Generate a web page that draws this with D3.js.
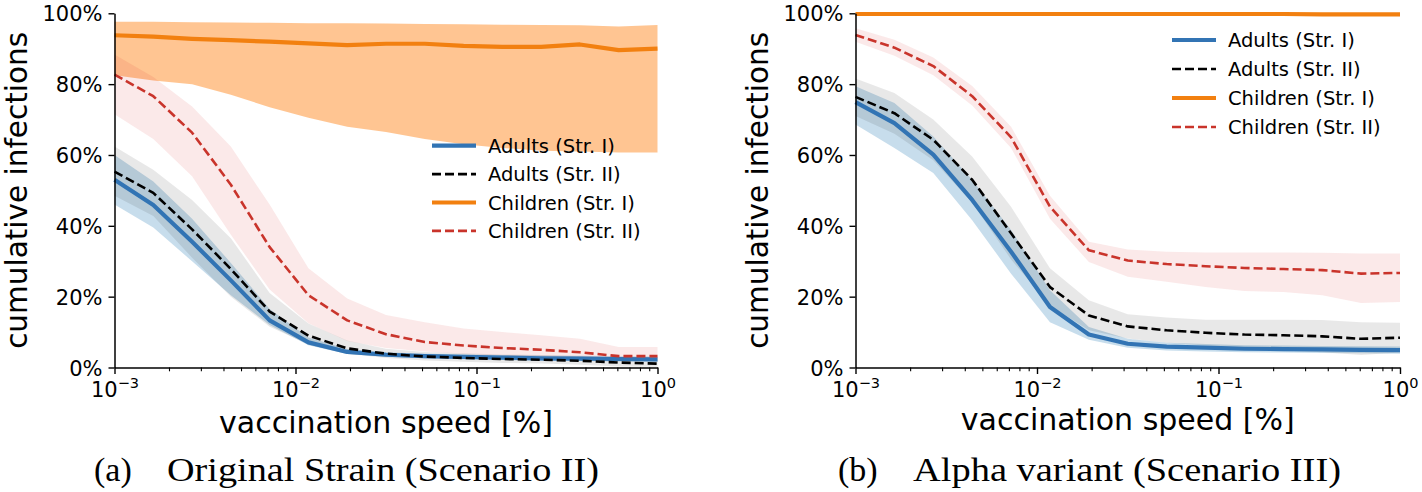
<!DOCTYPE html>
<html><head><meta charset="utf-8">
<script src="https://cdn.jsdelivr.net/npm/d3@7"></script>
<style>body{margin:0;background:#fff}svg{display:block}</style>
</head><body>
<svg id="chart" width="1422" height="492"></svg>
<script>
// ---- data ----
const speeds = [0.001, 0.001638, 0.002683, 0.004394, 0.007197, 0.01179, 0.01931, 0.03162, 0.05179, 0.08483, 0.1389, 0.2276, 0.3728, 0.6105, 1.0];
const xMajorTicks = [0.001, 0.01, 0.1, 1];
const xTickExponents = ["\u22123", "\u22122", "\u22121", "0"];
const yTicks = [0, 20, 40, 60, 80, 100];
const seriesNames = ["Adults (Str. I)", "Adults (Str. II)", "Children (Str. I)", "Children (Str. II)"];
const captions = [["(a)", "Original Strain (Scenario II)"], ["(b)", "Alpha variant (Scenario III)"]];
const xLabel = "vaccination speed [%]";
const yLabel = "cumulative infections";

// panel (a) Original strain
const aAdultsI    = [53, 45.9, 35.5, 24.6, 13.3, 7.1, 4.4, 3.6, 3.2, 3.0, 2.8, 2.6, 2.5, 2.4, 2.3];
const aAdultsILo  = [46, 39.5, 30, 20.4, 12, 6.3, 3.8, 3.0, 2.6, 2.3, 2.1, 1.9, 1.8, 1.7, 1.6];
const aAdultsIHi  = [60, 52.5, 42, 29.5, 16.5, 8.5, 5.2, 4.3, 3.9, 3.7, 3.5, 3.4, 3.3, 3.2, 3.1];
const aAdultsII   = [55.3, 49.3, 39, 27.8, 15.8, 9.0, 5.4, 3.9, 3.1, 2.7, 2.4, 2.2, 1.9, 1.4, 1.1];
const aAdultsIILo = [48.5, 42.8, 31, 20, 11.5, 6.5, 3.9, 2.7, 2.0, 1.6, 1.3, 1.1, 0.8, 0.3, 0.2];
const aAdultsIIHi = [62.4, 55.8, 47.3, 36.5, 21, 12.4, 7.6, 5.3, 4.4, 4.0, 3.7, 3.5, 3.2, 2.8, 2.6];
const aChildI     = [93.8, 93.4, 92.8, 92.4, 92.0, 91.5, 91.0, 91.4, 91.4, 90.8, 90.5, 90.5, 91.2, 89.6, 90.0];
const aChildILo   = [82.5, 81, 80, 77, 73.5, 70.5, 68, 66.5, 64.5, 63, 62, 61.2, 61, 60.7, 60.7];
const aChildIHi   = [97.6, 97.6, 97.5, 97.4, 97.3, 97.2, 97.2, 97.1, 97.0, 96.9, 96.8, 96.7, 96.6, 96.3, 96.7];
const aChildII    = [82.7, 76.6, 66.3, 51.6, 34, 20.4, 13.3, 9.4, 7.2, 6.2, 5.5, 5.0, 4.3, 3.2, 3.2];
const aChildIILo  = [71.5, 64.5, 54, 37.5, 22, 12.5, 7.5, 5.5, 4.5, 3.8, 3.3, 3.0, 2.6, 1.8, 1.8];
const aChildIIHi  = [88.4, 82, 73.7, 62.4, 46, 28, 19.5, 14.8, 12.8, 11, 10, 9.1, 8.1, 5.8, 5.8];

// panel (b) Alpha variant
const bAdultsI    = [74.9, 69.0, 60.1, 47.3, 32.7, 17.1, 9.3, 6.7, 5.9, 5.6, 5.3, 5.2, 5.1, 5.0, 4.9];
const bAdultsILo  = [68.6, 62, 54.9, 41.6, 26.5, 12.8, 7.8, 5.6, 4.8, 4.5, 4.3, 4.2, 4.1, 4.0, 3.9];
const bAdultsIHi  = [79.4, 74.7, 65.2, 53, 38.8, 21.8, 11.4, 8.1, 7.0, 6.6, 6.3, 6.2, 6.1, 6.0, 5.9];
const bAdultsII   = [76.4, 71.8, 64.3, 53, 37.9, 22.7, 14.7, 11.6, 10.5, 9.8, 9.3, 9.1, 8.8, 8.1, 8.4];
const bAdultsIILo = [71, 66, 58.5, 46.5, 30.5, 17.5, 10.5, 8.2, 7, 6.2, 5.2, 4.8, 4.3, 3.5, 4.2];
const bAdultsIIHi = [81.6, 77.5, 70, 59.6, 45.4, 28, 19, 15, 14.1, 13.5, 13.5, 13.5, 13.4, 12.8, 12.6];
const bChildI     = [99.8, 99.8, 99.8, 99.8, 99.8, 99.8, 99.8, 99.8, 99.8, 99.8, 99.8, 99.8, 99.7, 99.7, 99.7];
const bChildILo   = [99.5, 99.5, 99.5, 99.5, 99.5, 99.5, 99.5, 99.5, 99.5, 99.5, 99.5, 99.5, 99.4, 99.4, 99.4];
const bChildIHi   = [100, 100, 100, 100, 100, 100, 100, 100, 100, 100, 100, 100, 100, 100, 100];
const bChildII    = [93.9, 90.3, 85.1, 76.6, 65, 45.4, 33.1, 30.2, 29.2, 28.6, 28.1, 27.8, 27.5, 26.5, 26.7];
const bChildIILo  = [92, 88, 82.5, 74, 62, 42, 29.8, 25.6, 24.2, 22.7, 21.6, 21.3, 20.4, 18.2, 18.5];
const bChildIIHi  = [95.8, 92.5, 87.5, 79.5, 68, 48.5, 35.5, 33.3, 32.7, 32.5, 32.5, 32.5, 32.4, 32.2, 32.2];

// ---- styles ----
const styles = [
  {color: "#3274b4", width: 4.2, dash: null, band: "#1f77b4", bandOpacity: 0.25},
  {color: "#000000", width: 2.6, dash: "9,4", band: "#000000", bandOpacity: 0.09},
  {color: "#f28010", width: 4.2, dash: null, band: "#ff7f0e", bandOpacity: 0.45},
  {color: "#c9342b", width: 2.6, dash: "9,4", band: "#d62728", bandOpacity: 0.10}
];

const panels = [
  {x0: 114.5, x1: 657.5, yLabelX: 27, xLabelY: 433, capStart: 94, capTextStart: 167, capY: 481,
   legX: 432, legY: 145.7, legDy: 28.4,
   series: [[aAdultsI, aAdultsILo, aAdultsIHi], [aAdultsII, aAdultsIILo, aAdultsIIHi], [aChildI, aChildILo, aChildIHi], [aChildII, aChildIILo, aChildIIHi]]},
  {x0: 855.5, x1: 1400, yLabelX: 768, xLabelY: 430, capStart: 838, capTextStart: 913, capY: 481,
   legX: 1172, legY: 40, legDy: 29,
   series: [[bAdultsI, bAdultsILo, bAdultsIHi], [bAdultsII, bAdultsIILo, bAdultsIIHi], [bChildI, bChildILo, bChildIHi], [bChildII, bChildIILo, bChildIIHi]]}
];

const svg = d3.select("#chart");
svg.append("rect").attr("width", 1422).attr("height", 492).attr("fill", "#fff");
const yTop = 13.3, yBot = 367.5;
const FONT = "'DejaVu Sans', sans-serif";

panels.forEach((p, pi) => {
  const x = d3.scaleLog().domain([0.001, 1]).range([p.x0, p.x1]);
  const y = d3.scaleLinear().domain([0, 100]).range([yBot, yTop]);
  const g = svg.append("g");

  // bands
  p.series.forEach((s, si) => {
    const [mid, lo, hi] = s;
    const area = d3.area().x((d, i) => x(speeds[i])).y0((d, i) => y(lo[i])).y1((d, i) => y(hi[i]));
    g.append("path").datum(mid).attr("d", area)
      .attr("fill", styles[si].band).attr("fill-opacity", styles[si].bandOpacity).attr("stroke", "none");
  });
  // lines
  p.series.forEach((s, si) => {
    const mid = s[0];
    const line = d3.line().x((d, i) => x(speeds[i])).y(d => y(d));
    g.append("path").datum(mid).attr("d", line)
      .attr("fill", "none").attr("stroke", styles[si].color).attr("stroke-width", styles[si].width)
      .attr("stroke-dasharray", styles[si].dash).attr("stroke-linejoin", "round");
  });

  // y axis
  const yAxis = d3.axisLeft(y).tickValues(yTicks).tickSize(6).tickSizeOuter(0).tickPadding(6).tickFormat(d => d + "%");
  const ya = svg.append("g").attr("transform", `translate(${p.x0},0)`).call(yAxis);
  ya.select(".domain").attr("stroke", "#000").attr("stroke-width", 1.5);
  ya.selectAll(".tick line").attr("stroke", "#000").attr("stroke-width", 1.4);
  ya.selectAll(".tick text").attr("font-family", FONT).attr("font-size", 21).attr("fill", "#000").attr("dy", "0.36em");

  // x axis minor
  const minor = x.ticks().filter(v => xMajorTicks.indexOf(v) < 0 && v > 0.001 && v < 1);
  const xMinor = d3.axisBottom(x).tickValues(minor).tickSize(3.8).tickSizeOuter(0).tickFormat("");
  const xm = svg.append("g").attr("transform", `translate(0,${yBot})`).call(xMinor);
  xm.select(".domain").remove();
  xm.selectAll(".tick line").attr("stroke", "#000").attr("stroke-width", 1.1);

  const xAxis = d3.axisBottom(x).tickValues(xMajorTicks).tickSize(6.5).tickSizeOuter(0).tickFormat("");
  const xa = svg.append("g").attr("transform", `translate(0,${yBot})`).call(xAxis);
  xa.select(".domain").attr("stroke", "#000").attr("stroke-width", 1.5);
  xa.selectAll(".tick line").attr("stroke", "#000").attr("stroke-width", 1.4);
  xa.selectAll(".tick").each(function(d, i) {
    const t = d3.select(this).append("text").attr("y", 29).attr("text-anchor", "middle")
      .attr("font-family", FONT).attr("font-size", 21).attr("fill", "#000");
    t.append("tspan").text("10");
    t.append("tspan").attr("dy", -9).attr("font-size", 14.5).text(xTickExponents[i]);
  });

  // axis labels
  svg.append("text").attr("x", (p.x0 + p.x1) / 2).attr("y", p.xLabelY).attr("text-anchor", "middle")
    .attr("font-family", FONT).attr("font-size", 30).attr("fill", "#000").text(xLabel);
  svg.append("text").attr("transform", `translate(${p.yLabelX},${(yTop + yBot) / 2}) rotate(-90)`)
    .attr("text-anchor", "middle").attr("font-family", FONT).attr("font-size", 29.5).attr("fill", "#000").text(yLabel);

  // legend
  const lg = svg.append("g");
  seriesNames.forEach((name, si) => {
    const cy = p.legY + si * p.legDy;
    lg.append("line").attr("x1", p.legX).attr("x2", p.legX + 44).attr("y1", cy).attr("y2", cy)
      .attr("stroke", styles[si].color).attr("stroke-width", styles[si].width).attr("stroke-dasharray", styles[si].dash);
    lg.append("text").attr("x", p.legX + 56).attr("y", cy).attr("dy", "0.36em")
      .attr("font-family", FONT).attr("font-size", 19.5).attr("fill", "#000").text(name);
  });

  // caption
  svg.append("text").attr("x", p.capStart).attr("y", p.capY).attr("font-family", "'Liberation Serif', serif")
    .attr("font-size", 34).attr("fill", "#000").text(captions[pi][0]);
  const capW = pi === 0 ? 432 : 428;
  svg.append("text").attr("x", p.capTextStart).attr("y", p.capY).attr("font-family", "'Liberation Serif', serif")
    .attr("font-size", 34).attr("fill", "#000").attr("textLength", capW).attr("lengthAdjust", "spacingAndGlyphs")
    .text(captions[pi][1]);
});
</script>
</body></html>
